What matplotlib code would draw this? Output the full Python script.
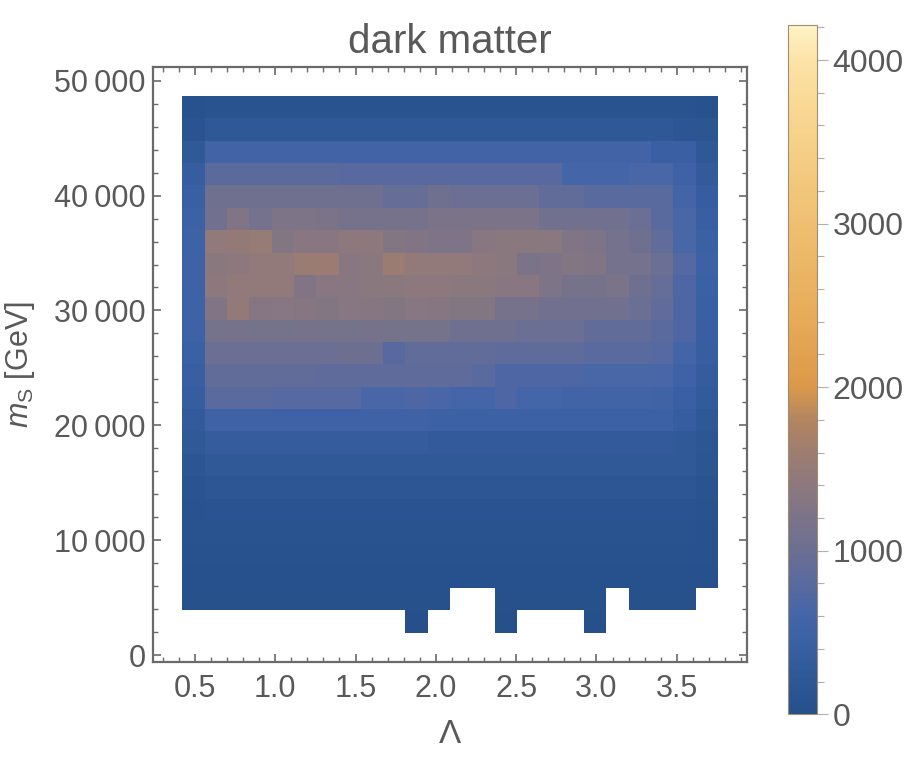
import numpy as np
import matplotlib
matplotlib.use("Agg")
import matplotlib.pyplot as plt
from matplotlib.colors import LinearSegmentedColormap
from matplotlib.ticker import MultipleLocator, FuncFormatter

plt.rcParams['font.family'] = ['Liberation Sans', 'DejaVu Sans']
plt.rcParams['mathtext.fontset'] = 'custom'
plt.rcParams['mathtext.rm'] = 'Liberation Sans'
plt.rcParams['mathtext.it'] = 'Liberation Sans:italic'

TXT = '#595959'

# bin layout of the 2D histogram (Lambda along x, m_S along y)
lam_min, lam_max, n_lam = 0.421, 3.757, 24
ms_min, ms_max, n_ms = 1940, 48670, 24

# counts per bin, rows from bottom (low m_S) to top; nan = empty bin
nan = np.nan
counts = [
    [nan]*10 + [10] + [nan]*3 + [10] + [nan]*3 + [10] + [nan]*5,
    [20]*12 + [nan, nan] + [20]*5 + [nan] + [20]*3 + [nan],
    [35] + [40]*22 + [35],
    [50] + [60]*22 + [50],
    [70] + [85]*22 + [65],
    [90] + [125]*22 + [90],
    [130] + [185]*22 + [120],
    [180] + [250]*22 + [150],
    [240] + [340]*10 + [300]*11 + [240, 190],
    [300] + [520]*10 + [470]*11 + [350, 230],
    [350, 800, 800, 800, 760, 760, 760, 760, 650, 650, 700, 650, 600, 600,
     700, 600, 600, 560, 560, 560, 560, 540, 420, 280],
    [400, 900, 900, 900, 900, 900, 860, 860, 860, 860, 860, 860, 860, 800,
     700, 700, 700, 700, 650, 650, 650, 650, 520, 330],
    [450, 1000, 1000, 1000, 1000, 1000, 1000, 1030, 1030, 780, 900, 900, 900, 900,
     860, 860, 860, 860, 800, 800, 800, 760, 580, 370],
    [480, 1130, 1150, 1120, 1130, 1150, 1120, 1130, 1150, 1120, 1130, 1120, 1040, 1040,
     1040, 1000, 1000, 1000, 900, 900, 900, 820, 700, 400],
    [500, 1260, 1480, 1310, 1330, 1310, 1300, 1330, 1310, 1300, 1330, 1310, 1300, 1300,
     1150, 1150, 1080, 1080, 1080, 1080, 1000, 900, 700, 430],
    [520, 1410, 1450, 1450, 1450, 1260, 1340, 1340, 1370, 1370, 1410, 1410, 1370, 1370,
     1340, 1340, 1220, 1150, 1150, 1190, 1040, 950, 700, 450],
    [520, 1370, 1410, 1450, 1450, 1560, 1560, 1340, 1370, 1560, 1450, 1450, 1450, 1410,
     1370, 1190, 1220, 1300, 1260, 1110, 1110, 1000, 750, 470],
    [500, 1450, 1490, 1530, 1300, 1340, 1340, 1410, 1410, 1300, 1260, 1220, 1220, 1340,
     1370, 1370, 1370, 1260, 1220, 1110, 1040, 900, 650, 450],
    [470, 1080, 1260, 1110, 1220, 1220, 1190, 1150, 1150, 1150, 1150, 1190, 1190, 1190,
     1190, 1190, 1080, 1080, 1080, 1080, 1000, 800, 650, 400],
    [420, 1040, 1040, 1040, 1040, 1040, 1040, 1040, 1040, 950, 950, 1040, 1000, 1000,
     1000, 1000, 900, 900, 800, 800, 800, 800, 580, 350],
    [350, 820, 820, 820, 820, 820, 820, 780, 780, 780, 780, 780, 780, 780,
     780, 780, 780, 600, 600, 600, 650, 650, 520, 300],
    [250] + [560]*20 + [420, 420, 220],
    [130] + [220]*21 + [170, 150],
    [60] + [80]*22 + [60],
]

# colour scale (approximation of the default density gradient)
cmap_nodes = [0.0, 0.05, 0.1, 0.145, 0.19, 0.24, 0.285, 0.33, 0.38, 0.43, 0.475,
              0.57, 0.71, 0.85, 0.95, 1.0]
cmap_colors = ['#26508a', '#2e5896', '#3a60a4', '#4565a8', '#5a6a9e', '#6c6f92',
               '#7c7488', '#8c787e', '#9e7d6f', '#b58660', '#dc984a',
               '#e6aa58', '#efbf70', '#f7d38c', '#fce3a6', '#fff3c6']
vmax = 4214

cmap = LinearSegmentedColormap.from_list('dens', list(zip(cmap_nodes, cmap_colors)))
cmap.set_bad('white', 0)

lam_edges = np.linspace(lam_min, lam_max, n_lam + 1)
ms_edges = np.linspace(ms_min, ms_max, n_ms + 1)
z = np.ma.masked_invalid(np.array(counts, dtype=float))

fig = plt.figure(figsize=(9.17, 7.72), dpi=100)
ax = fig.add_axes([0.1665, 0.1429, 0.6484, 0.7699])
mesh = ax.pcolormesh(lam_edges, ms_edges, z, cmap=cmap, vmin=0, vmax=vmax,
                     shading='flat', edgecolors='none', antialiased=False)

ax.set_xlim(0.237, 3.939)
ax.set_ylim(-580, 51170)
ax.xaxis.set_major_locator(MultipleLocator(0.5))
ax.xaxis.set_minor_locator(MultipleLocator(0.1))
ax.yaxis.set_major_locator(MultipleLocator(10000))
ax.yaxis.set_minor_locator(MultipleLocator(2000))
ax.xaxis.set_major_formatter(FuncFormatter(lambda v, p: f'{v:.1f}'))
ax.yaxis.set_major_formatter(
    FuncFormatter(lambda v, p: f'{int(v):,}'.replace(',', '\u2009')))

for s in ax.spines.values():
    s.set_color('#6a6a6a')
    s.set_linewidth(1.6)
ax.tick_params(which='both', direction='in', top=True, right=True,
               color='#6a6a6a', labelcolor=TXT, labelsize=22)
ax.tick_params(which='major', length=6, width=1.2)
ax.tick_params(which='minor', length=3.5, width=1.0)
ax.tick_params(axis='x', which='major', pad=9)
ax.tick_params(axis='y', which='major', pad=5)

ax.set_title('dark matter', fontsize=29, color=TXT, pad=10)
ax.set_xlabel('Λ', fontsize=24, color=TXT, labelpad=11)
ax.set_ylabel(r'$m_\mathrm{S}$ [GeV]', fontsize=22, color=TXT, labelpad=12)

cax = fig.add_axes([0.8596, 0.0747, 0.0316, 0.8929])
cb = fig.colorbar(mesh, cax=cax)
cb.set_ticks([0, 1000, 2000, 3000, 4000])
cb.ax.yaxis.set_minor_locator(MultipleLocator(200))
cb.outline.set_edgecolor('#9c8f78')
cb.outline.set_linewidth(0.8)
cb.ax.tick_params(which='both', direction='out', color='#b0b0b0',
                  labelcolor=TXT, labelsize=23)
cb.ax.tick_params(which='major', length=8, width=0.8, pad=3)
cb.ax.tick_params(which='minor', length=5, width=0.8)

fig.savefig('out.png', dpi=100, facecolor='white')
